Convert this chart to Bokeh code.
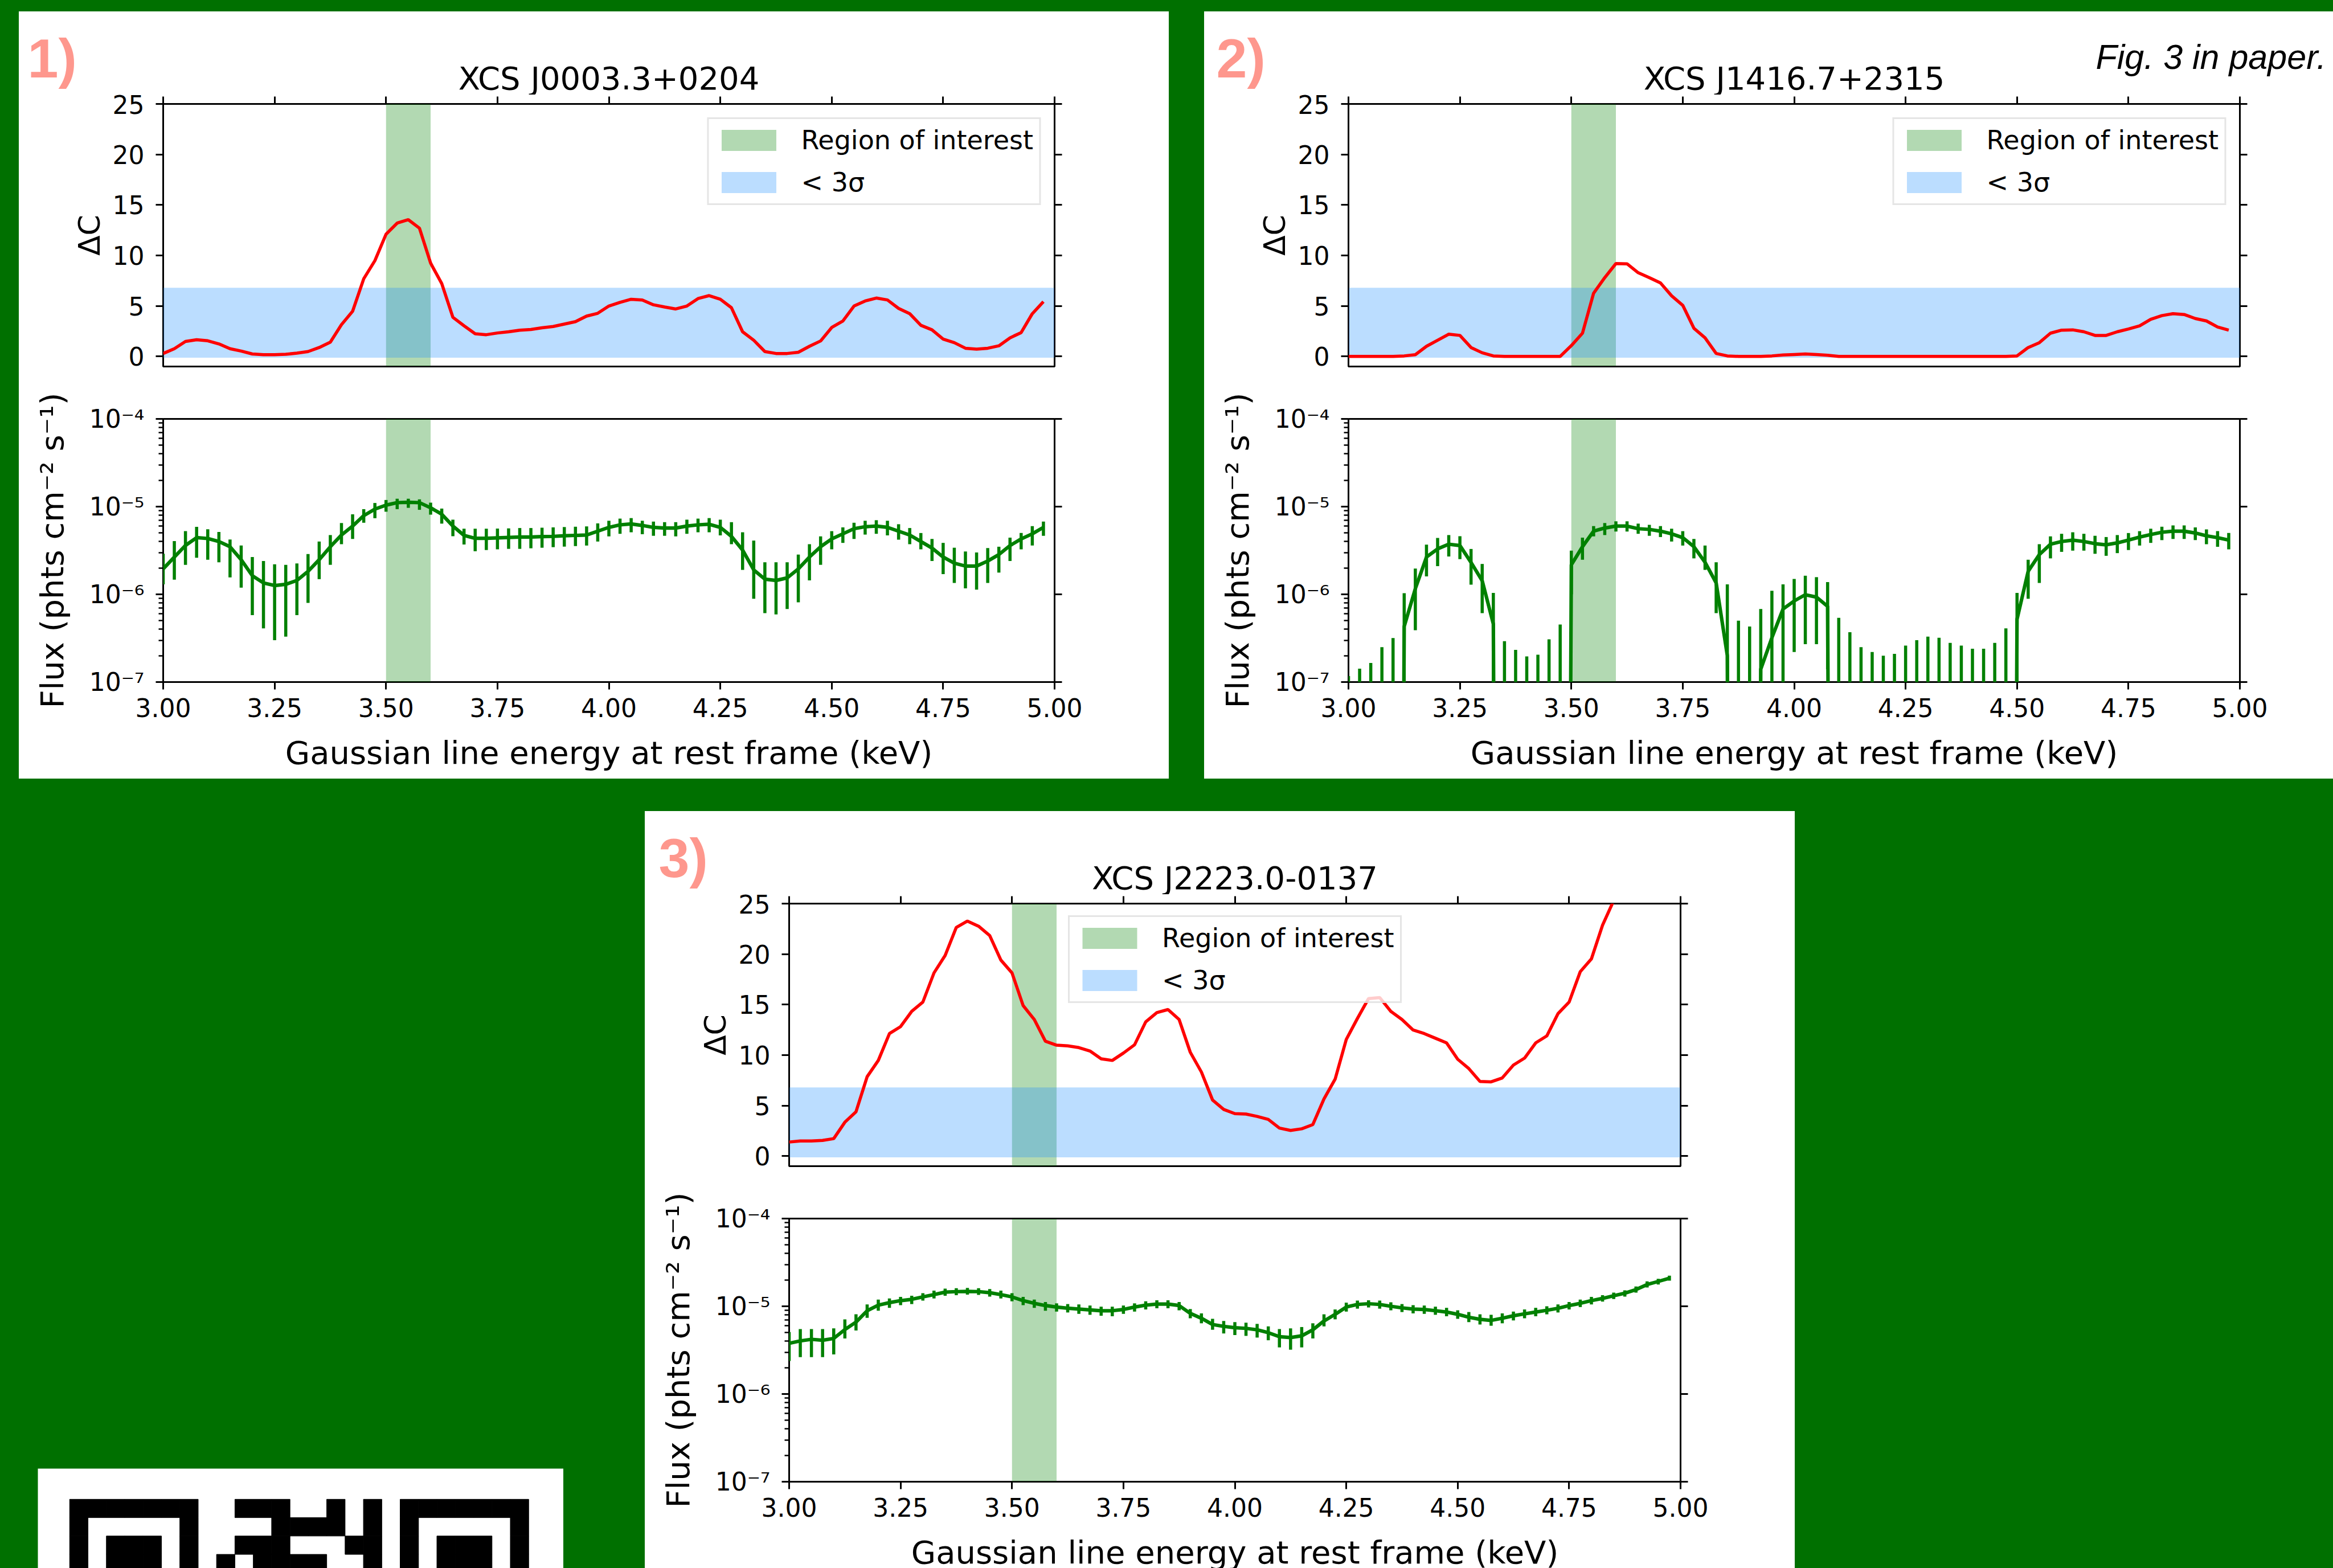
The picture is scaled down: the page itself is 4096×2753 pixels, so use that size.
import numpy as np
from bokeh.plotting import figure
from bokeh.models import (Range1d, LinearAxis, LogAxis, FixedTicker, PrintfTickFormatter,
                          CustomJSTickFormatter, Label, Legend, LegendItem, Spacer)
from bokeh.layouts import row, column
from bokeh.embed import file_html
from bokeh.resources import INLINE
from bokeh.core.properties import value

# ---------------- data ----------------
ENERGY = [3.0, 3.025, 3.05, 3.075, 3.1, 3.125, 3.15, 3.175, 3.2, 3.225,
          3.25, 3.275, 3.3, 3.325, 3.35, 3.375, 3.4, 3.425, 3.45, 3.475,
          3.5, 3.525, 3.55, 3.575, 3.6, 3.625, 3.65, 3.675, 3.7, 3.725,
          3.75, 3.775, 3.8, 3.825, 3.85, 3.875, 3.9, 3.925, 3.95, 3.975,
          4.0, 4.025, 4.05, 4.075, 4.1, 4.125, 4.15, 4.175, 4.2, 4.225,
          4.25, 4.275, 4.3, 4.325, 4.35, 4.375, 4.4, 4.425, 4.45, 4.475,
          4.5, 4.525, 4.55, 4.575, 4.6, 4.625, 4.65, 4.675, 4.7, 4.725,
          4.75, 4.775, 4.8, 4.825, 4.85, 4.875, 4.9, 4.925, 4.95, 4.975]

TITLES = ["XCS J0003.3+0204", "XCS J1416.7+2315", "XCS J2223.0-0137"]
TAGS = ["1)", "2)", "3)"]

# Delta C curves
DC1 = [0.29, 0.76, 1.48, 1.65, 1.55, 1.24, 0.76, 0.53, 0.24, 0.17,
       0.17, 0.21, 0.33, 0.48, 0.88, 1.41, 3.15, 4.47, 7.69, 9.48,
       12.1, 13.2, 13.54, 12.7, 9.24, 7.21, 3.87, 3.03, 2.24, 2.15,
       2.32, 2.44, 2.6, 2.67, 2.84, 2.96, 3.2, 3.44, 3.99, 4.27,
       4.99, 5.35, 5.66, 5.59, 5.11, 4.89, 4.7, 4.99, 5.73, 6.02,
       5.66, 4.82, 2.44, 1.6, 0.48, 0.29, 0.29, 0.41, 1.0, 1.53,
       2.87, 3.51, 4.99, 5.49, 5.78, 5.59, 4.75, 4.23, 3.08, 2.63,
       1.72, 1.36, 0.81, 0.72, 0.81, 1.05, 1.84, 2.36, 4.23, 5.42]
DC2 = [0, 0, 0, 0, 0, 0.05, 0.17, 1.0, 1.6, 2.2,
       2.08, 0.88, 0.36, 0.05, 0, 0, 0, 0, 0, 0,
       1.07, 2.3, 6.26, 7.8, 9.19, 9.17, 8.29, 7.8, 7.28, 6.0,
       5.06, 2.79, 1.84, 0.29, 0.05, 0, 0, 0, 0.05, 0.14,
       0.19, 0.24, 0.19, 0.12, 0, 0, 0, 0, 0, 0,
       0, 0, 0, 0, 0, 0, 0, 0, 0, 0,
       0.05, 0.88, 1.36, 2.3, 2.6, 2.63, 2.44, 2.08, 2.08, 2.44,
       2.72, 3.03, 3.68, 4.04, 4.23, 4.15, 3.75, 3.51, 2.91, 2.6]
NAN = float("nan")
DC3 = [1.39, 1.5, 1.5, 1.55, 1.73, 3.35, 4.39, 7.86, 9.47, 12.13,
       12.82, 14.33, 15.25, 18.14, 19.87, 22.64, 23.27, 22.76, 21.84, 19.41,
       18.14, 14.9, 13.52, 11.37, 10.98, 10.91, 10.74, 10.4, 9.63, 9.47,
       10.2, 11.02, 13.29, 14.21, 14.51, 13.52, 10.28, 8.32, 5.55, 4.62,
       4.2, 4.16, 3.93, 3.63, 2.77, 2.54, 2.7, 3.12, 5.66, 7.62,
       11.55, 13.63, 15.6, 15.7, 14.33, 13.52, 12.48, 12.13, 11.67, 11.21,
       9.59, 8.66, 7.39, 7.35, 7.74, 9.01, 9.7, 11.21, 11.9, 14.1,
       15.25, 18.26, 19.52, 22.87, 25.3, NAN, NAN, NAN, NAN, NAN]

# Flux (in units of 1e-6 phts cm^-2 s^-1): best value, lower and upper end of error bar
FLUX1 = [1.95, 2.66, 3.61, 4.43, 4.33, 4.0, 3.49, 2.48, 1.63, 1.35,
         1.26, 1.3, 1.44, 1.83, 2.48, 3.49, 4.74, 6.0, 7.89, 9.36,
         10.4, 11.1, 11.2, 11.1, 9.7, 8.2, 6.0, 4.7, 4.35, 4.35,
         4.4, 4.45, 4.5, 4.5, 4.55, 4.58, 4.65, 4.7, 4.74, 5.25,
         5.8, 6.2, 6.35, 6.1, 5.8, 5.7, 5.7, 6.0, 6.2, 6.3,
         5.8, 4.58, 3.2, 1.9, 1.49, 1.44, 1.54, 1.95, 2.66, 3.49,
         4.28, 4.9, 5.6, 5.9, 6.0, 5.8, 5.25, 4.74, 4.0, 3.37,
         2.66, 2.27, 2.1, 2.1, 2.4, 2.84, 3.6, 4.28, 4.9, 5.8]
FLUX1_LO = [1.3, 1.47, 2.17, 2.61, 2.48, 2.32, 1.56, 1.19, 0.58, 0.41,
            0.3, 0.33, 0.58, 0.8, 1.49, 2.17, 3.73, 4.28, 6.55, 7.38,
            8.75, 9.36, 9.69, 9.2, 8.1, 6.4, 4.6, 3.7, 3.1, 3.2,
            3.26, 3.3, 3.3, 3.35, 3.4, 3.45, 3.5, 3.55, 3.6, 4.0,
            4.58, 4.9, 5.1, 4.85, 4.65, 4.65, 4.58, 4.9, 5.1, 5.1,
            4.7, 3.73, 1.9, 0.89, 0.61, 0.59, 0.68, 0.81, 1.44, 2.17,
            3.26, 3.86, 4.28, 4.8, 4.9, 4.7, 4.2, 3.73, 3.26, 2.4,
            1.7, 1.35, 1.17, 1.13, 1.35, 1.77, 2.4, 3.26, 3.6, 4.65]
FLUX1_HI = [2.9, 4.05, 5.25, 5.89, 5.52, 5.15, 4.22, 3.6, 2.66, 2.4,
            2.2, 2.17, 2.25, 2.88, 4.0, 4.74, 6.5, 8.17, 9.36, 11.0,
            11.9, 12.3, 12.3, 12.1, 11.1, 9.5, 7.1, 5.6, 5.6, 5.6,
            5.62, 5.65, 5.7, 5.7, 5.75, 5.8, 5.85, 5.9, 5.95, 6.44,
            6.9, 7.3, 7.4, 6.9, 6.75, 6.65, 6.65, 7.1, 7.3, 7.4,
            7.1, 6.65, 5.1, 4.1, 2.32, 2.32, 2.32, 2.84, 3.73, 4.58,
            5.25, 5.8, 6.55, 6.9, 7.0, 6.9, 6.3, 5.7, 5.0, 4.28,
            3.86, 3.4, 3.08, 3.0, 3.37, 3.49, 4.43, 5.0, 6.0, 6.75]

FLUX2 = [0, 0, 0, 0, 0, 0.43, 1.16, 2.66, 3.3, 3.73,
         3.6, 2.31, 1.43, 0.46, 0, 0, 0, 0, 0, 0,
         2.17, 3.49, 5.25, 5.7, 6.0, 6.0, 5.6, 5.5, 5.25, 4.9,
         4.43, 3.49, 2.32, 1.35, 0.2, 0, 0, 0.14, 0.32, 0.68,
         0.84, 0.99, 0.93, 0.73, 0, 0, 0, 0, 0, 0,
         0, 0, 0, 0, 0, 0, 0, 0, 0, 0,
         0.52, 1.83, 2.84, 3.73, 4.0, 4.15, 4.0, 3.78, 3.67, 3.86,
         4.15, 4.5, 4.8, 5.1, 5.25, 5.25, 5.0, 4.65, 4.43, 4.15]
FLUX2_LO = [0, 0, 0, 0, 0, 0, 0.39, 1.6, 2.1, 2.7,
            2.52, 1.29, 0.61, 0, 0, 0, 0, 0, 0, 0,
            1.0, 2.48, 4.58, 4.74, 5.2, 5.2, 4.9, 4.65, 4.5, 4.0,
            3.6, 2.57, 1.9, 0.61, 0, 0, 0, 0, 0, 0,
            0.22, 0.27, 0.27, 0.14, 0, 0, 0, 0, 0, 0,
            0, 0, 0, 0, 0, 0, 0, 0, 0, 0,
            0, 0.89, 1.35, 2.57, 3.05, 3.15, 3.15, 2.9, 2.75, 2.95,
            3.2, 3.6, 3.86, 4.15, 4.28, 4.28, 4.15, 3.73, 3.49, 3.26]
FLUX2_HI = [0.117, 0.142, 0.165, 0.25, 0.318, 1.03, 1.97, 3.69, 4.4, 4.74,
            4.6, 3.29, 2.22, 1.04, 0.292, 0.233, 0.196, 0.205, 0.307, 0.452,
            3.15, 4.43, 6.0, 6.5, 6.8, 6.8, 6.4, 6.2, 6.0, 5.6,
            5.25, 4.28, 3.6, 2.32, 1.3, 0.5, 0.43, 0.68, 1.1, 1.3,
            1.5, 1.63, 1.57, 1.38, 0.54, 0.37, 0.25, 0.22, 0.2, 0.21,
            0.26, 0.3, 0.33, 0.32, 0.28, 0.26, 0.24, 0.24, 0.28, 0.41,
            1.04, 2.48, 3.73, 4.58, 4.9, 5.1, 4.9, 4.65, 4.5, 4.74,
            5.0, 5.25, 5.6, 5.9, 6.1, 6.1, 5.8, 5.5, 5.25, 5.0]

FLUX3 = [3.78, 4.03, 4.2, 4.1, 4.3, 5.43, 6.6, 8.9, 10.3, 11.0,
         11.6, 12.0, 12.8, 13.6, 14.5, 14.7, 14.8, 14.7, 14.3, 13.6,
         12.8, 11.6, 10.8, 10.2, 9.8, 9.5, 9.3, 9.1, 8.9, 8.9,
         9.2, 9.8, 10.3, 10.6, 10.6, 10.2, 8.3, 7.3, 6.2, 5.9,
         5.7, 5.6, 5.4, 5.0, 4.5, 4.4, 4.6, 5.4, 6.8, 8.1,
         9.8, 10.5, 10.7, 10.5, 10.0, 9.6, 9.3, 9.2, 8.9, 8.6,
         8.1, 7.5, 7.1, 6.9, 7.3, 7.8, 8.2, 8.6, 9.0, 9.5,
         10.2, 10.8, 11.6, 12.3, 13.2, 14.1, 15.5, 17.7, 19.2, 20.9]
FLUX3_LO = [2.38, 2.63, 2.63, 2.63, 2.83, 4.3, 5.3, 7.4, 8.9, 9.6,
            10.3, 10.6, 11.6, 12.3, 13.2, 13.4, 13.6, 13.5, 12.9, 12.3,
            11.4, 10.3, 9.6, 8.9, 8.7, 8.5, 8.2, 8.0, 7.8, 7.7,
            8.2, 8.7, 9.2, 9.5, 9.5, 9.0, 7.3, 6.4, 5.4, 4.9,
            4.7, 4.6, 4.4, 4.1, 3.4, 3.2, 3.4, 4.3, 5.9, 7.1,
            8.7, 9.4, 9.7, 9.4, 9.0, 8.6, 8.3, 8.2, 8.0, 7.7,
            7.2, 6.6, 6.2, 6.0, 6.4, 6.9, 7.3, 7.7, 8.1, 8.5,
            9.2, 9.8, 10.5, 11.3, 12.1, 12.9, 14.3, 16.4, 17.7, 19.6]
FLUX3_HI = [5.08, 5.5, 5.5, 5.5, 5.6, 7.1, 8.1, 10.5, 11.9, 12.3,
            12.8, 13.2, 14.1, 15.1, 15.9, 16.1, 16.2, 16.1, 15.7, 15.1,
            14.1, 12.8, 11.9, 11.2, 10.8, 10.6, 10.5, 10.2, 9.9, 9.9,
            10.2, 10.8, 11.4, 11.7, 11.7, 11.2, 9.3, 8.3, 7.2, 6.8,
            6.6, 6.5, 6.3, 5.9, 5.5, 5.6, 5.8, 6.4, 8.1, 9.2,
            11.0, 11.6, 11.7, 11.6, 11.1, 10.6, 10.3, 10.2, 9.9, 9.6,
            9.0, 8.6, 8.1, 8.0, 8.3, 8.7, 9.2, 9.6, 10.0, 10.5,
            11.2, 11.9, 12.8, 13.4, 14.3, 15.2, 16.8, 19.2, 20.6, 22.3]
FLUX_UNIT = 1e-6

X_TICKS = [3.0, 3.25, 3.5, 3.75, 4.0, 4.25, 4.5, 4.75, 5.0]
DC_TICKS = [0, 5, 10, 15, 20, 25]
FLUX_DECADES = [1e-7, 1e-6, 1e-5, 1e-4]
XLIM = (3.0, 5.0)
DC_LIM = (-1.0, 25.0)
FLUX_LIM = (1e-7, 1e-4)
ROI = (3.5, 3.6)              # region of interest (keV)
SIGMA3_BAND = (-0.12, 6.8)    # Delta C below 3 sigma

X_LABEL = "Gaussian line energy at rest frame (keV)"
DC_LABEL = "\u0394C"
FLUX_LABEL = "Flux (phts cm\u207b\u00b2 s\u207b\u00b9)"
LEGEND_LABELS = ["Region of interest", "< 3\u03c3"]
NOTE = "Fig. 3 in paper."

# visible rows of the QR code: row -> dark module columns
QR_ROWS = {
    0: [0, 1, 2, 3, 4, 5, 6, 9, 10, 11, 14, 16, 18, 19, 20, 21, 22, 23, 24],
    1: [0, 6, 11, 12, 13, 14, 16, 18, 24],
    2: [0, 2, 3, 4, 6, 9, 10, 11, 15, 16, 18, 20, 21, 22, 24],
    3: [0, 2, 3, 4, 6, 8, 10, 11, 12, 13, 16, 18, 20, 21, 22, 24],
}

# ---------------- styling / geometry (px) ----------------
BG = "#007000"
FONT = "DejaVu Sans"
TAG_COLOR = "#fe978d"
FRAME_W, LEFT = 1565, 253
HEAD_H = 146
TOP_H, TOP_BORDER, TOP_FRAME_H = 518, 16, 461
BOT_H, BOT_TOP, BOT_FRAME_H = 603, 51, 462
FLOOR = 1e-30

blank = CustomJSTickFormatter(code="return '';")
pow_fmt = CustomJSTickFormatter(code="""
const e = Math.round(Math.log10(tick));
const m = {'-':'\u207b','0':'\u2070','1':'\u00b9','2':'\u00b2','3':'\u00b3','4':'\u2074',
           '5':'\u2075','6':'\u2076','7':'\u2077','8':'\u2078','9':'\u2079'};
return '10' + String(e).split('').map(c => m[c]).join('');
""")


def style_axis(ax, minor=False, labels=True):
    ax.axis_line_color = None
    ax.major_tick_in = 0
    ax.major_tick_out = 13
    ax.major_tick_line_width = 3
    ax.major_tick_line_color = "black"
    if minor:
        ax.minor_tick_in = 0
        ax.minor_tick_out = 8
        ax.minor_tick_line_width = 2.3
        ax.minor_tick_line_color = "black"
    else:
        ax.minor_tick_line_color = None
    ax.major_label_text_font = FONT
    ax.major_label_text_font_size = "44px" if labels else "0px"
    if not labels:
        ax.major_label_standoff = 0
    ax.major_label_text_color = "black"
    ax.axis_label_text_font = FONT
    ax.axis_label_text_font_style = "normal"
    ax.axis_label_text_color = "black"


def plain_fig(width, height):
    p = figure(width=width, height=height, x_range=Range1d(0, width), y_range=Range1d(0, height),
               x_axis_location=None, y_axis_location=None, toolbar_location=None,
               output_backend="svg", min_border=0,
               min_border_left=0, min_border_right=0, min_border_top=0, min_border_bottom=0,
               frame_align=False)
    p.grid.visible = False
    p.outline_line_color = None
    p.background_fill_color = "white"
    p.border_fill_color = "white"
    return p


def base_fig(width, height, top, bottom, right, y_range, log=False):
    p = figure(width=width, height=height, x_range=Range1d(*XLIM), y_range=y_range,
               y_axis_type="log" if log else "linear",
               x_axis_location=None, y_axis_location=None,
               toolbar_location=None, output_backend="svg",
               min_border_left=LEFT, min_border_right=right,
               min_border_top=top, min_border_bottom=bottom)
    p.grid.visible = False
    p.outline_line_color = "black"
    p.outline_line_width = 3
    p.background_fill_color = "white"
    p.border_fill_color = "white"
    return p


def text_label(x, y_mid, text, font, size, color="black", style="normal", align="left"):
    return Label(x=x, y=y_mid, x_units="screen", y_units="screen", text=text,
                 text_align=align, text_baseline="middle", text_font=font,
                 text_font_style=style, text_font_size=f"{size}px", text_color=color)


def make_panel(k, width, height, tag_x, dc, flux, lo, hi, legend_loc="top_right", note=False):
    right = width - LEFT - FRAME_W
    # ---- header: panel tag, title, note (y = middle of text, from header bottom) ----
    hd = plain_fig(width, HEAD_H)
    hd.add_layout(text_label(LEFT + FRAME_W / 2, 12 + 0.3 * 56, TITLES[k], FONT, 56,
                             align="center"))
    hd.add_layout(text_label(tag_x, HEAD_H - 111 + 0.3 * 97, TAGS[k], "Liberation Sans", 97,
                             color=TAG_COLOR, style="bold"))
    if note:
        hd.add_layout(text_label(LEFT + 1312, HEAD_H - 98 + 0.3 * 61, NOTE, "Liberation Sans", 61,
                                 style="italic"))

    # ---- top: Delta C ----
    t = base_fig(width, TOP_H, TOP_BORDER, TOP_H - TOP_BORDER - TOP_FRAME_H, right,
                 Range1d(*DC_LIM))
    g = t.quad(left=[ROI[0]], right=[ROI[1]], bottom=[DC_LIM[0]], top=[DC_LIM[1]],
               fill_color="green", fill_alpha=0.3, line_color=None)
    b = t.quad(left=[XLIM[0]], right=[XLIM[1]], bottom=[SIGMA3_BAND[0]], top=[SIGMA3_BAND[1]],
               fill_color="dodgerblue", fill_alpha=0.3, line_color=None)
    t.line(x=ENERGY, y=np.array(dc, dtype=float), line_color="red", line_width=5.5)

    al = LinearAxis(ticker=FixedTicker(ticks=DC_TICKS), axis_label=DC_LABEL)
    style_axis(al)
    al.major_label_standoff = 20
    al.axis_label_text_font_size = "52px"
    al.axis_label_standoff = 8
    t.add_layout(al, "left")
    ar = LinearAxis(ticker=FixedTicker(ticks=DC_TICKS), formatter=blank)
    style_axis(ar, labels=False)
    t.add_layout(ar, "right")
    aa = LinearAxis(ticker=FixedTicker(ticks=X_TICKS), formatter=blank)
    style_axis(aa, labels=False)
    t.add_layout(aa, "above")

    leg = Legend(items=[LegendItem(label=value(LEGEND_LABELS[0]), renderers=[g]),
                        LegendItem(label=value(LEGEND_LABELS[1]), renderers=[b])],
                 location=legend_loc, margin=24, padding=10, spacing=20,
                 glyph_width=120, glyph_height=46, label_height=46, label_standoff=32,
                 label_text_font=FONT, label_text_font_size="46px", label_text_color="black",
                 border_line_color="#cccccc", border_line_width=3,
                 background_fill_color="white", background_fill_alpha=0.8)
    t.add_layout(leg)

    # ---- bottom: flux ----
    bf = base_fig(width, BOT_H, BOT_TOP, BOT_H - BOT_TOP - BOT_FRAME_H, right,
                  Range1d(*FLUX_LIM), log=True)
    bf.quad(left=[ROI[0]], right=[ROI[1]], bottom=[FLUX_LIM[0]], top=[FLUX_LIM[1]],
            fill_color="green", fill_alpha=0.3, line_color=None)
    f = np.maximum(np.array(flux) * FLUX_UNIT, FLOOR)
    l = np.maximum(np.array(lo) * FLUX_UNIT, FLOOR)
    h = np.maximum(np.array(hi) * FLUX_UNIT, FLOOR)
    bf.segment(x0=ENERGY, y0=l, x1=ENERGY, y1=h, line_color="green", line_width=5.5)
    bf.line(x=ENERGY, y=f, line_color="green", line_width=6.2)

    minor = [m * d for d in FLUX_DECADES[:-1] for m in range(2, 10)]
    bl = LogAxis(ticker=FixedTicker(ticks=FLUX_DECADES, minor_ticks=minor),
                 formatter=pow_fmt, axis_label=FLUX_LABEL)
    style_axis(bl, minor=True)
    bl.major_label_standoff = 20
    bl.axis_label_text_font_size = "56px"
    bl.axis_label_standoff = 30
    bf.add_layout(bl, "left")
    br = LogAxis(ticker=FixedTicker(ticks=FLUX_DECADES, minor_ticks=[]), formatter=blank)
    style_axis(br, labels=False)
    bf.add_layout(br, "right")
    bb = LinearAxis(ticker=FixedTicker(ticks=X_TICKS), formatter=PrintfTickFormatter(format="%.2f"))
    style_axis(bb)
    bb.major_label_standoff = 15
    bf.add_layout(bb, "below")

    # ---- footer: x axis label ----
    foot_h = height - HEAD_H - TOP_H - BOT_H
    ft = plain_fig(width, foot_h)
    ft.add_layout(text_label(LEFT + FRAME_W / 2, foot_h - 34, X_LABEL, FONT, 56, align="center"))
    return column(hd, t, bf, ft, styles={"background-color": "white"})


W_ALL, H_ALL = 4096, 2753
p1 = make_panel(0, 2019, 1347, 15, DC1, FLUX1, FLUX1_LO, FLUX1_HI)
p2 = make_panel(1, W_ALL - 2114, 1347, 21, DC2, FLUX2, FLUX2_LO, FLUX2_HI, note=True)
p3 = make_panel(2, 2019, H_ALL - 1424, 24, DC3, FLUX3, FLUX3_LO, FLUX3_HI, legend_loc=(490, 286))

# ---- QR code block ----
QR_H = H_ALL - 1424 - 1154
qr = figure(width=923, height=QR_H, x_range=Range1d(-1.73, 26.9),
            y_range=Range1d(-1.67 + QR_H / 32.25, -1.67),
            x_axis_location=None, y_axis_location=None, toolbar_location=None,
            output_backend="svg", min_border=0, frame_align=False)
qr.grid.visible = False
qr.outline_line_color = None
qr.background_fill_color = "white"
qr.border_fill_color = "white"
qr_r, qr_c = [], []
for r_, cols in QR_ROWS.items():
    for c_ in cols:
        qr_r.append(r_)
        qr_c.append(c_)
qr_r = np.array(qr_r, dtype=float)
qr_c = np.array(qr_c, dtype=float)
qr.quad(left=qr_c, right=qr_c + 1, top=qr_r, bottom=qr_r + 1, fill_color="black",
        line_color="black", line_width=1)

left_block = column(Spacer(width=1132, height=1154),
                    row(Spacer(width=66, height=QR_H), qr, Spacer(width=143, height=QR_H)))

root = column(
    Spacer(width=W_ALL, height=20),
    row(Spacer(width=33, height=1347), p1, Spacer(width=62, height=1347), p2),
    Spacer(width=W_ALL, height=57),
    row(left_block, p3, Spacer(width=W_ALL - 1132 - 2019, height=H_ALL - 1424)),
    styles={"background-color": BG},
)

open("out.html", "w", encoding="utf-8").write(file_html(root, INLINE))
